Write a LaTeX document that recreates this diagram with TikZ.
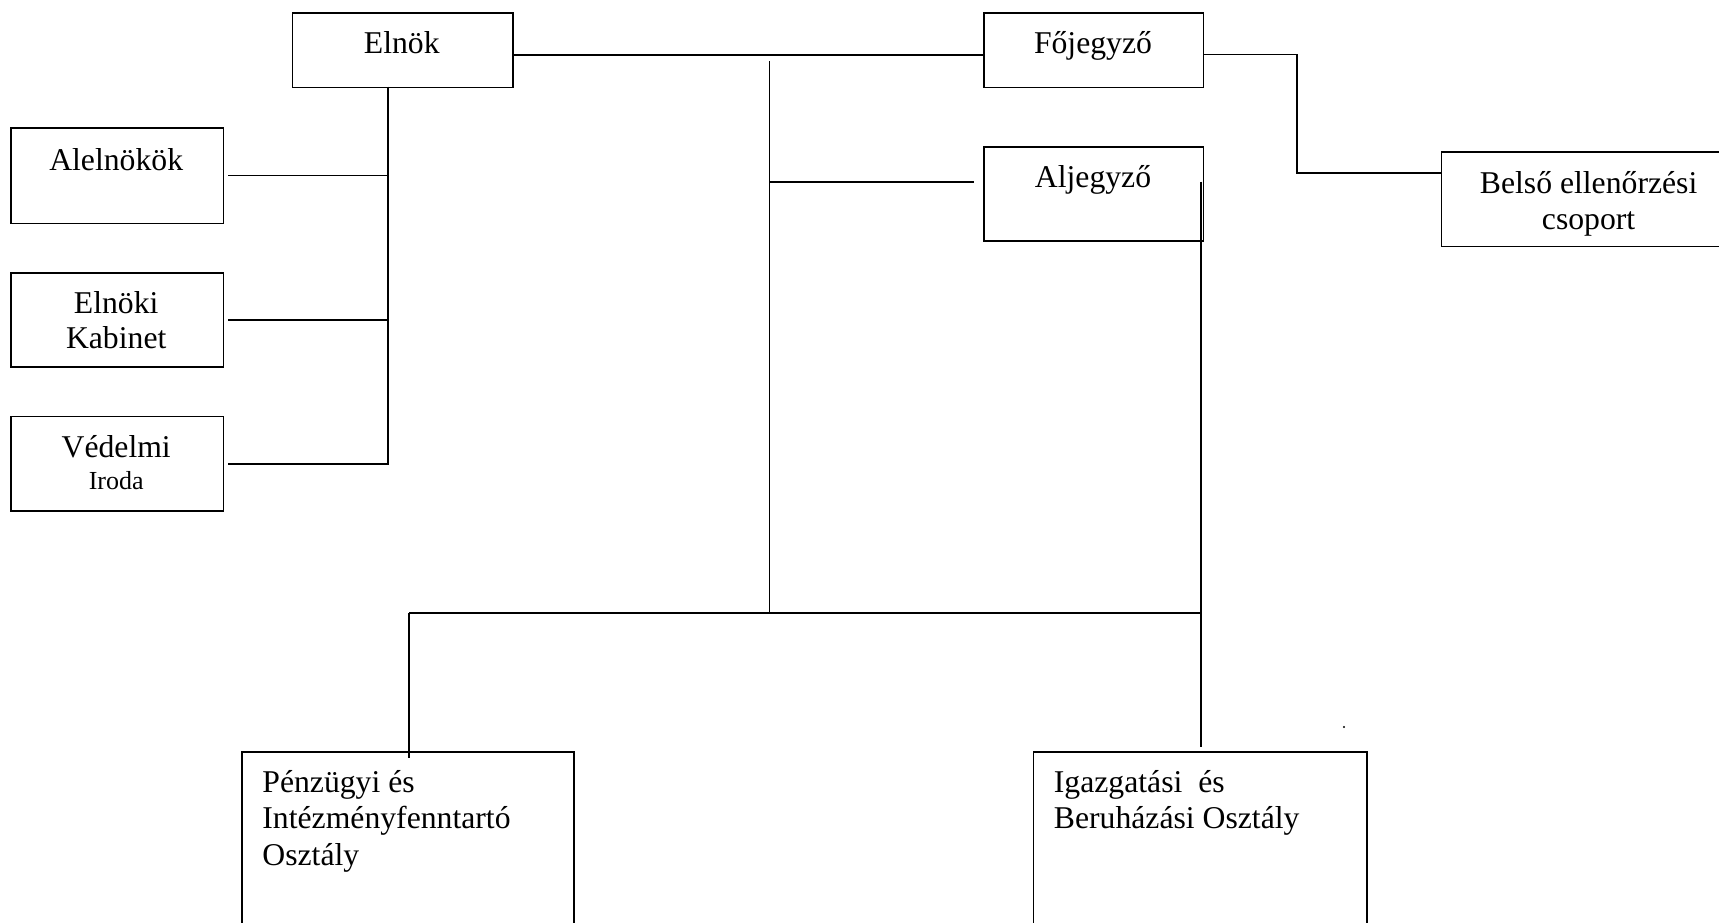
\documentclass[tikz,border=0pt]{standalone}
\usepackage{fontspec}
\setmainfont{Liberation Serif}
\usetikzlibrary{calc}
\begin{document}
\begin{tikzpicture}[x=0.5pt,y=-0.5pt,
  lw/.style={line width=0.85pt},
  orgbox/.style={draw,lw,rectangle,inner sep=0pt,anchor=north west},
  txt/.style={inner sep=0pt,anchor=base,font=\fontsize{15.85}{18.1}\selectfont},
  txtl/.style={inner sep=0pt,anchor=base west,font=\fontsize{15.85}{18.1}\selectfont},
  small/.style={inner sep=0pt,anchor=base,font=\fontsize{13}{15}\selectfont},
  conn/.style={lw}]
\useasboundingbox (0,0) rectangle (1719,922);
% boxes
\node[orgbox,minimum width=220.4*0.5pt,minimum height=74.6*0.5pt] (elnok) at (291.6,12) {};
\node[orgbox,minimum width=219.2*0.5pt,minimum height=74.6*0.5pt] (fojegyzo) at (983.4,12) {};
\node[orgbox,minimum width=219.2*0.5pt,minimum height=94.3*0.5pt] (aljegyzo) at (983.4,145.8) {};
\node[orgbox,minimum width=296.5*0.5pt,minimum height=94.3*0.5pt] (belso) at (1440.5,151.3) {};
\node[orgbox,minimum width=212.6*0.5pt,minimum height=95.3*0.5pt] (alelnokok) at (9.9,127.2) {};
\node[orgbox,minimum width=212.6*0.5pt,minimum height=94.3*0.5pt] (kabinet) at (9.9,271.9) {};
\node[orgbox,minimum width=212.6*0.5pt,minimum height=94.3*0.5pt] (vedelmi) at (9.9,415.5) {};
\node[orgbox,minimum width=332.2*0.5pt,minimum height=200*0.5pt] (penzugyi) at (241.2,751) {};
\node[orgbox,minimum width=333.3*0.5pt,minimum height=200*0.5pt] (igazgatasi) at (1032.7,751) {};
% texts
\node[txt] (elnokT) at (401.8,53.7) {Elnök};
\node[txt] (fojegyzoT) at (1093,53.7) {Főjegyző};
\node[txt] (aljegyzoT) at (1093,187.5) {Aljegyző};
\node[txt] (belsoT1) at (1588.6,193) {Belső ellenőrzési};
\node[txt] (belsoT2) at (1588.6,229.5) {csoport};
\node[txt] (alelnokokT) at (116.2,170) {Alelnökök};
\node[txt] (kabinetT1) at (116.2,313.5) {Elnöki};
\node[txt] (kabinetT2) at (116.2,348.6) {Kabinet};
\node[txt] (vedelmiT1) at (116.2,457.2) {Védelmi};
\node[small] (vedelmiT2) at (116.2,489) {Iroda};
\node[txtl] (penzT1) at (262,792.6) {Pénzügyi és};
\node[txtl] (penzT2) at (262,828.8) {Intézményfenntartó};
\node[txtl] (penzT3) at (262,865) {Osztály};
\node[txtl] (igazT1) at (1053.5,792.6) {Igazgatási\ \ és};
\node[txtl] (igazT2) at (1053.5,828.8) {Beruházási Osztály};
% coordinates
\coordinate (eV) at (388.2,86.6);
\coordinate (eVend) at (388.2,464.5);
\coordinate (mTop) at (769.4,61);
\coordinate (mBot) at (769.4,613.3);
\coordinate (bL) at (409,613.3);
\coordinate (bR) at (1202.4,613.3);
\coordinate (aR) at (1201.2,181.7);
\coordinate (fR) at (1297,54.5);
% Elnök branch
\draw[conn] (eV) -- (eVend);
\draw[conn] (alelnokok.east |- 0,175.4) ++(4,0) -- (388.2,175.4);
\draw[conn] (kabinet.east |- 0,320) ++(4,0) -- (388.2,320);
\draw[conn] (vedelmi.east |- 0,463.7) ++(4,0) -- (388.2,463.7);
% Elnök - Főjegyző
\draw[conn] (514,54.8) -- (fojegyzo.west |- 0,54.8);
% middle trunk
\draw[conn] (mTop) -- (mBot);
\draw[conn] (mTop |- 0,181.7) -- (974,181.7);
\draw[conn] (aR) -- (1201.2,746.7);
\draw[conn] (bL) -- (bR);
\draw[conn] (bL) -- (409,758.3);
% Főjegyző - Belső
\draw[conn] (fojegyzo.east |- 0,54.5) -- (fR) -- (1297,173.3) -- (belso.west |- 0,173.3);
% speck
\fill (1344,727) circle (1.2);
\end{tikzpicture}
\end{document}
